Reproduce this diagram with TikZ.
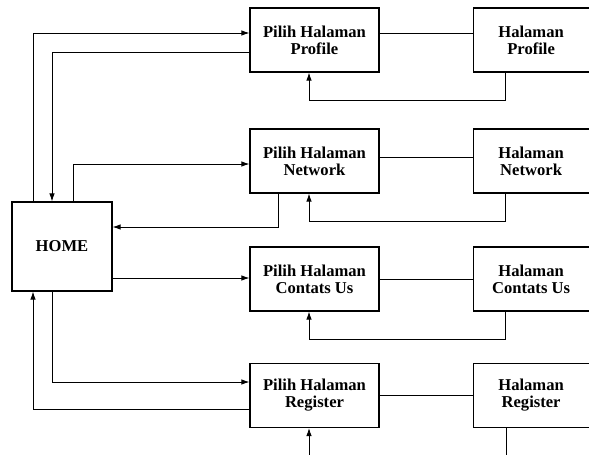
\documentclass[tikz,border=0pt]{standalone}
\usepackage{fontspec}
\setmainfont{Liberation Serif}
\usepackage{tikz}
\usetikzlibrary{arrows.meta,positioning,calc}

\begin{document}
\begin{tikzpicture}[
    x=1pt, y=-1pt,
    node distance=93pt,
    pilih/.style={rectangle, draw=black, line width=1.1pt, align=center, minimum height=64pt, minimum width=129pt, inner sep=0pt, font=\fontsize{16.6}{17}\selectfont\bfseries},
    hal/.style={rectangle, draw=black, line width=1.1pt, align=center, minimum height=64pt, minimum width=116pt, inner sep=0pt, font=\fontsize{16.6}{17}\selectfont\bfseries},
    homebox/.style={rectangle, draw=black, line width=1.1pt, align=center, minimum height=89pt, minimum width=100pt, inner sep=0pt, font=\fontsize{16.6}{17}\selectfont\bfseries},
    arr/.style={-{Latex[length=8pt,width=5.5pt]}, line width=0.9pt},
    ln/.style={line width=0.9pt}
]
    \useasboundingbox (0,0) rectangle (589,455);

    \node [homebox] (home) at (62,246.5) {HOME};

    \node [pilih] (pp) at (314.5,40) {Pilih Halaman\\Profile};
    \node [pilih] (pn) at (314.5,161) {Pilih Halaman\\Network};
    \node [pilih] (pc) at (314.5,279) {Pilih Halaman\\Contats Us};
    \node [pilih] (pr) at (314.5,395.5) {Pilih Halaman\\Register};

    \node [hal, right=of pp] (hp) {Halaman\\Profile};
    \node [hal, right=of pn] (hn) {Halaman\\Network};
    \node [hal, right=of pc] (hc) {Halaman\\Contats Us};
    \node [hal, right=of pr] (hr) {Halaman\\Register};

    \coordinate (rin) at (309,455);
    \coordinate (rout) at (506,455);

    % home <-> pilih
    \draw [arr] (33,0 |- home.north) |- (pp.west |- 0,33);
    \draw [arr] (pp.west |- 0,52) -| (52,0 |- home.north);
    \draw [arr] (73,0 |- home.north) |- (pn.west |- 0,164);
    \draw [arr] (278,0 |- pn.south) |- (home.east |- 0,227);
    \draw [arr] (home.east |- 0,278) -- (pc.west |- 0,278);
    \draw [arr] (52,0 |- home.south) |- (pr.west |- 0,382);
    \draw [arr] (pr.west |- 0,409) -| (33,0 |- home.south);

    % pilih -- halaman
    \draw [ln] (pp.east |- 0,33) -- (hp.west |- 0,33);
    \draw [ln] (pn.east |- 0,157) -- (hn.west |- 0,157);
    \draw [ln] (pc.east |- 0,279) -- (hc.west |- 0,279);
    \draw [ln] (pr.east |- 0,395) -- (hr.west |- 0,395);

    % halaman back to pilih
    \draw [arr] (505,0 |- hp.south) |- (309,100) -- (309,0 |- pp.south);
    \draw [arr] (505,0 |- hn.south) |- (309,221) -- (309,0 |- pn.south);
    \draw [arr] (505,0 |- hc.south) |- (309,339) -- (309,0 |- pc.south);
    \draw [arr] (rin) -- (309,0 |- pr.south);
    \draw [ln] (506,0 |- hr.south) -- (rout);
\end{tikzpicture}
\end{document}
